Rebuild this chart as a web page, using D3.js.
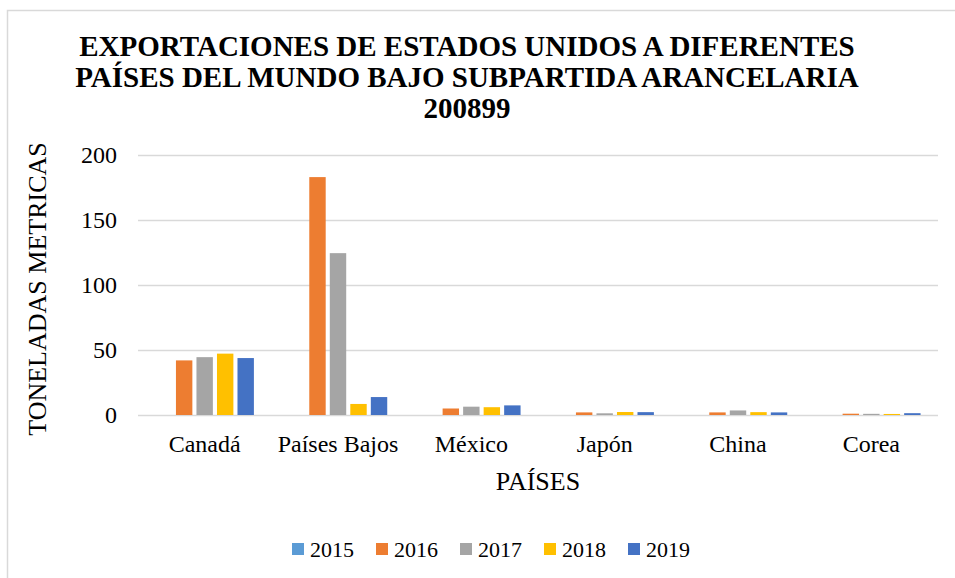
<!DOCTYPE html>
<html>
<head>
<meta charset="utf-8">
<script src="https://cdn.jsdelivr.net/npm/d3@7"></script>
<style>
  body { margin: 0; background: #fff; }
  text { font-family: "Liberation Serif", "Times New Roman", serif; fill: #000; }
</style>
</head>
<body>
<div id="chart"></div>
<script>
// Data
const countries = ["Canadá", "Países Bajos", "México", "Japón", "China", "Corea"];
const years = ["2015", "2016", "2017", "2018", "2019"];
const v2015 = [0, 0, 0, 0, 0, 0];
const v2016 = [42, 183, 5, 2, 2, 1];
const v2017 = [44.5, 124.5, 6.4, 1.3, 3.5, 0.9];
const v2018 = [47.2, 8.5, 6, 2.3, 2.2, 0.8];
const v2019 = [43.8, 13.8, 7.4, 2.2, 2, 1.4];
const yTicks = [0, 50, 100, 150, 200];
const colors = ["#5B9BD5", "#ED7D31", "#A5A5A5", "#FFC000", "#4472C4"];
const titleLines = [
    "EXPORTACIONES DE ESTADOS UNIDOS A DIFERENTES",
    "PAÍSES DEL MUNDO BAJO SUBPARTIDA ARANCELARIA",
    "200899"
];

const series = [v2015, v2016, v2017, v2018, v2019];
const data = countries.map((c, i) => ({
    country: c,
    values: years.map((y, k) => ({ year: y, value: series[k][i] }))
}));

const W = 955, H = 578;
const plot = { left: 138, right: 938, top: 155, bottom: 415 };

const svg = d3.select("#chart").append("svg")
    .attr("width", W)
    .attr("height", H);

// chart frame
svg.append("rect")
    .attr("x", 7.5).attr("y", 10.5)
    .attr("width", 1000).attr("height", 1000)
    .attr("fill", "#fff")
    .attr("stroke", "#d9d9d9")
    .attr("stroke-width", 1.5);

// title
svg.append("g").selectAll("text")
    .data(titleLines)
    .enter().append("text")
    .attr("x", 467)
    .attr("y", (d, i) => 56 + i * 31)
    .attr("text-anchor", "middle")
    .style("font-size", "29px")
    .style("font-weight", "bold")
    .text(d => d);

// scales
const x0 = d3.scaleBand()
    .domain(countries)
    .range([plot.left, plot.right])
    .paddingInner(0.2)
    .paddingOuter(0.1);

const x1 = d3.scaleBand()
    .domain(years)
    .range([0, x0.bandwidth()])
    .padding(0.2);

const y = d3.scaleLinear()
    .domain([0, 200])
    .range([plot.bottom, plot.top]);

const color = d3.scaleOrdinal().domain(years).range(colors);

// gridlines
svg.append("g")
    .attr("transform", `translate(${plot.left},0)`)
    .call(d3.axisLeft(y).tickValues(yTicks).tickSize(-(plot.right - plot.left)).tickFormat(""))
    .call(g => g.select(".domain").remove())
    .call(g => g.selectAll("line").attr("stroke", "#d9d9d9").attr("stroke-width", 1.5));

// y tick labels
svg.append("g")
    .attr("transform", `translate(${plot.left - 21},0)`)
    .call(d3.axisLeft(y).tickValues(yTicks).tickSize(0).tickPadding(0))
    .call(g => g.select(".domain").remove())
    .call(g => g.selectAll("text")
        .style("font-size", "24px")
        .style("font-family", "'Liberation Serif', serif")
        .attr("fill", "#000"));

// x tick labels
svg.append("g")
    .attr("transform", `translate(0,${plot.bottom})`)
    .call(d3.axisBottom(x0).tickSize(0).tickPadding(20))
    .call(g => g.select(".domain").remove())
    .call(g => g.selectAll("text")
        .style("font-size", "24px")
        .style("font-family", "'Liberation Serif', serif")
        .attr("fill", "#000"));

// bars
const groups = svg.append("g").selectAll("g")
    .data(data)
    .enter().append("g")
    .attr("transform", d => `translate(${x0(d.country)},0)`);

groups.selectAll("rect")
    .data(d => d.values)
    .enter().append("rect")
    .attr("x", d => x1(d.year))
    .attr("width", x1.bandwidth())
    .attr("y", d => y(d.value))
    .attr("height", d => y(0) - y(d.value))
    .attr("fill", d => color(d.year));

// axis titles
svg.append("text")
    .attr("x", 538)
    .attr("y", 490)
    .attr("text-anchor", "middle")
    .style("font-size", "26px")
    .text("PAÍSES");

svg.append("text")
    .attr("transform", `translate(46,${289}) rotate(-90)`)
    .attr("text-anchor", "middle")
    .style("font-size", "26px")
    .text("TONELADAS METRICAS");

// legend
const legend = svg.append("g").selectAll("g")
    .data(years)
    .enter().append("g")
    .attr("transform", (d, i) => `translate(${292 + i * 84},549)`);

legend.append("rect")
    .attr("x", 0).attr("y", -6)
    .attr("width", 12).attr("height", 12)
    .attr("fill", d => color(d));

legend.append("text")
    .attr("x", 18)
    .attr("y", 8)
    .style("font-size", "22px")
    .text(d => d);
</script>
</body>
</html>
